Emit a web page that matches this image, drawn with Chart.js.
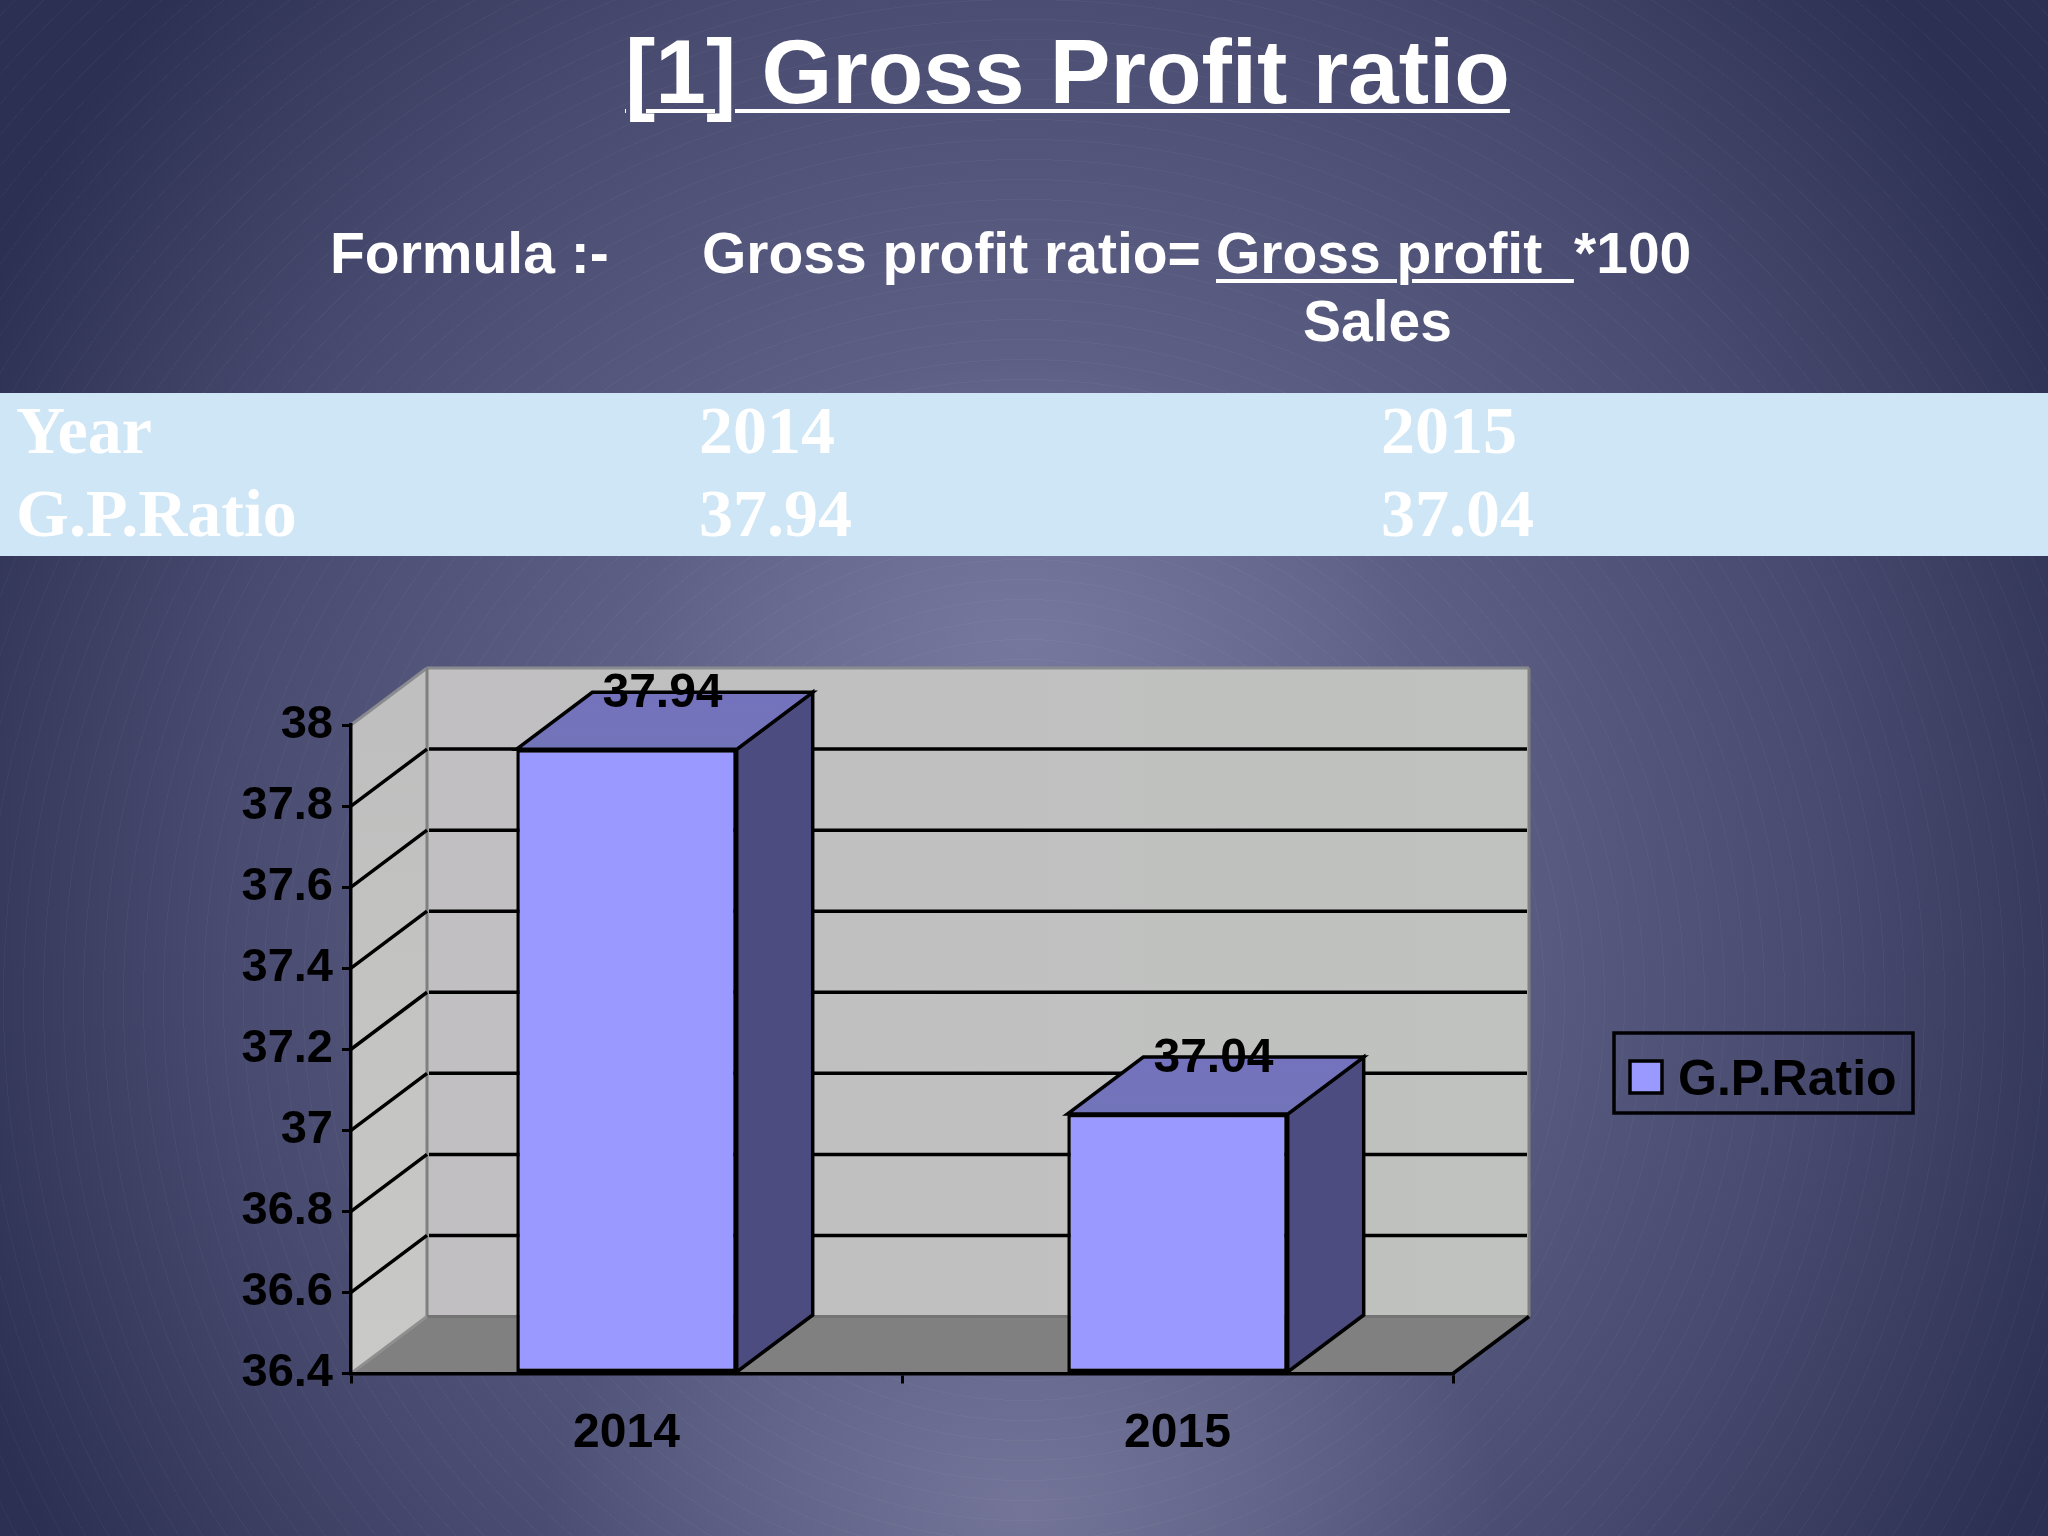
<!DOCTYPE html>
<html>
<head>
<meta charset="utf-8">
<title>Gross Profit ratio</title>
<style>
  html, body { margin: 0; padding: 0; }
  body {
    width: 2048px; height: 1536px; overflow: hidden; position: relative;
    background:
      repeating-radial-gradient(circle at 1024px 1000px, rgba(255,255,255,.03) 0 1px, transparent 1px 20px),
      radial-gradient(ellipse 480px 300px at 1024px 1510px, rgba(132,132,168,.65), rgba(132,132,168,0)),
      radial-gradient(ellipse 380px 280px at 1024px 640px, rgba(132,132,168,.55), rgba(132,132,168,0)),
      radial-gradient(ellipse 1150px 1300px at 1024px 850px, #6c6e94 0%, #5f6187 35%, #484b6f 70%, #2c3052 100%);
  }
  canvas { position: absolute; left: 0; top: 0; }
  .t { position: absolute; white-space: pre; line-height: 1; color: #fff; font-family: "Liberation Sans", Arial, sans-serif; font-weight: bold; }
  .u { text-decoration: underline; text-decoration-thickness: 4px; text-underline-offset: 6px; }
  #band { position: absolute; left: 0; top: 393px; width: 2048px; height: 163px; background: #cfe6f6; }
  .c { position: absolute; white-space: pre; color: #fff; font: bold 68px "Liberation Serif", serif; line-height: 1; }
</style>
</head>
<body>
<div id="band"></div>
<canvas id="chart" width="2048" height="1536"></canvas>
<div class="t u" style="left:625px;top:26px;font-size:91px">[1] Gross Profit ratio</div>
<div class="t" style="left:330px;top:225px;font-size:57px">Formula :-</div>
<div class="t" style="left:702px;top:225px;font-size:57px">Gross profit ratio=</div>
<div class="t u" style="left:1216px;top:225px;font-size:57px">Gross profit  </div>
<div class="t" style="left:1574px;top:225px;font-size:57px">*100</div>
<div class="t" style="left:1303px;top:293px;font-size:57px">Sales</div>
<script src="https://cdn.jsdelivr.net/npm/chart.js@4/dist/chart.umd.min.js"></script>
<script>
const categories = ['2014', '2015'];
const gpRatio = [37.94, 37.04];
const seriesName = 'G.P.Ratio';
const yTickLabels = ['36.4', '36.6', '36.8', '37', '37.2', '37.4', '37.6', '37.8', '38'];

// table strip under the formula
const rowTop = [396, 479];
const colLeft = [16, 699, 1381];
const rows = [['Year', ...categories], [seriesName, ...gpRatio.map(String)]];
rows.forEach((row, r) => {
    row.forEach((text, c) => {
        const el = document.createElement('div');
        el.className = 'c';
        el.style.left = colLeft[c] + 'px';
        el.style.top = rowTop[r] + 'px';
        el.textContent = text;
        document.body.appendChild(el);
    });
});

const depthX = 76;
const depthY = -57;

function poly(ctx, pts, fill, stroke, width) {
    ctx.beginPath();
    pts.forEach((p, i) => i ? ctx.lineTo(p[0], p[1]) : ctx.moveTo(p[0], p[1]));
    ctx.closePath();
    if (fill) {
        ctx.fillStyle = fill;
        ctx.fill();
    }
    if (stroke) {
        ctx.strokeStyle = stroke;
        ctx.lineWidth = width;
        ctx.stroke();
    }
}

function line(ctx, x1, y1, x2, y2, color, width) {
    ctx.beginPath();
    ctx.moveTo(x1, y1);
    ctx.lineTo(x2, y2);
    ctx.strokeStyle = color;
    ctx.lineWidth = width;
    ctx.stroke();
}

// the walls and the floor behind the bars
const walls = {
    id: 'walls',
    beforeDraw(chart) {
        const ctx = chart.ctx;
        const a = chart.chartArea;
        const y = chart.scales.y;
        const backL = a.left + depthX;
        const backR = a.right + depthX;
        const backT = a.top + depthY;
        const backB = a.bottom + depthY;
        ctx.save();

        const backFill = ctx.createLinearGradient(backL, 0, backR, 0);
        backFill.addColorStop(0, '#c1bfc1');
        backFill.addColorStop(1, '#bfc2bf');
        poly(ctx, [[backL, backT], [backR, backT], [backR, backB], [backL, backB]], backFill);

        const sideFill = ctx.createLinearGradient(0, a.bottom, 0, a.top);
        sideFill.addColorStop(0, '#c9c9c7');
        sideFill.addColorStop(1, '#bfbfbf');
        poly(ctx, [[a.left, a.top], [backL, backT], [backL, backB], [a.left, a.bottom]], sideFill);

        poly(ctx, [[a.left, a.bottom], [backL, backB], [backR, backB], [a.right, a.bottom]], '#808080');

        line(ctx, a.left, a.top, backL, backT, '#8a8b90', 3);
        line(ctx, backL, backT, backR, backT, '#8a8b90', 3);
        line(ctx, backL, backT, backL, backB, '#808080', 3);
        line(ctx, backR, backT, backR, backB, '#808080', 3);
        line(ctx, backL, backB, backR, backB, '#747474', 3);
        line(ctx, a.left, a.bottom, backL, backB, '#8f8f8f', 3);
        line(ctx, a.right, a.bottom, backR, backB, '#000', 3.5);

        y.ticks.forEach(t => {
            if (t.value === y.min || t.value === y.max) {
                return;
            }
            const py = y.getPixelForValue(t.value);
            line(ctx, a.left, py, backL, py + depthY, '#000', 3.5);
            line(ctx, backL + 2, py + depthY, backR - 2, py + depthY, '#000', 3.5);
        });
        ctx.restore();
    },
    afterDatasetsDraw(chart) {
        const ctx = chart.ctx;
        ctx.save();
        chart.getDatasetMeta(0).data.forEach((bar, i) => {
            const l = bar.x - bar.width / 2;
            const r = bar.x + bar.width / 2;
            poly(ctx, [[r, bar.y], [r + depthX, bar.y + depthY], [r + depthX, bar.base + depthY], [r, bar.base]], '#4c4c80', '#000', 3.5);
            const topFill = ctx.createLinearGradient(0, bar.y + depthY, 0, bar.y);
            topFill.addColorStop(0, '#7472bd');
            topFill.addColorStop(1, '#7274b9');
            poly(ctx, [[l, bar.y], [l + depthX, bar.y + depthY], [r + depthX, bar.y + depthY], [r, bar.y]], topFill, '#000', 3.5);

            ctx.font = 'bold 48px "Liberation Sans", Arial, sans-serif';
            ctx.fillStyle = '#000';
            ctx.textAlign = 'center';
            ctx.textBaseline = 'alphabetic';
            ctx.fillText(String(gpRatio[i]), bar.x + 36, bar.y - 42);
        });

        // legend
        poly(ctx, [[1614, 1033], [1913, 1033], [1913, 1113], [1614, 1113]], null, '#000', 3.5);
        poly(ctx, [[1630, 1061], [1662, 1061], [1662, 1093], [1630, 1093]], '#9999ff', '#000', 3.5);
        ctx.font = 'bold 50px "Liberation Sans", Arial, sans-serif';
        ctx.fillStyle = '#000';
        ctx.textAlign = 'left';
        ctx.textBaseline = 'alphabetic';
        ctx.fillText(seriesName, 1678, 1095);
        ctx.restore();
    }
};

new Chart(document.getElementById('chart'), {
    type: 'bar',
    data: {
        labels: categories,
        datasets: [{
            label: seriesName,
            data: gpRatio,
            base: 36.4,
            backgroundColor: '#9999ff',
            borderColor: '#000',
            borderWidth: 3.5,
            borderSkipped: false,
            categoryPercentage: 1,
            barPercentage: 0.4
        }]
    },
    plugins: [walls],
    options: {
        responsive: false,
        animation: false,
        layout: { padding: { left: 0, top: 725, right: 595, bottom: 0 } },
        plugins: { legend: { display: false }, tooltip: { enabled: false }, title: { display: false } },
        scales: {
            x: {
                afterFit: s => { s.height = 162.5; },
                border: { display: true, color: '#000', width: 3.5 },
                grid: { drawOnChartArea: false, drawTicks: true, tickLength: 10, color: '#000', lineWidth: 3 },
                ticks: {
                    color: '#000',
                    padding: 21,
                    maxRotation: 0,
                    font: { family: '"Liberation Sans", Arial, sans-serif', size: 48, weight: 'bold' }
                }
            },
            y: {
                min: 36.4,
                max: 38,
                afterFit: s => { s.width = 351; },
                border: { display: true, color: '#000', width: 3.5 },
                grid: { drawOnChartArea: false, drawTicks: true, tickLength: 9, color: '#000', lineWidth: 3 },
                ticks: {
                    stepSize: 0.2,
                    color: '#000',
                    padding: 9,
                    font: { family: '"Liberation Sans", Arial, sans-serif', size: 47, weight: 'bold' },
                    callback: (v, i) => yTickLabels[i]
                }
            }
        }
    }
});
</script>
</body>
</html>
